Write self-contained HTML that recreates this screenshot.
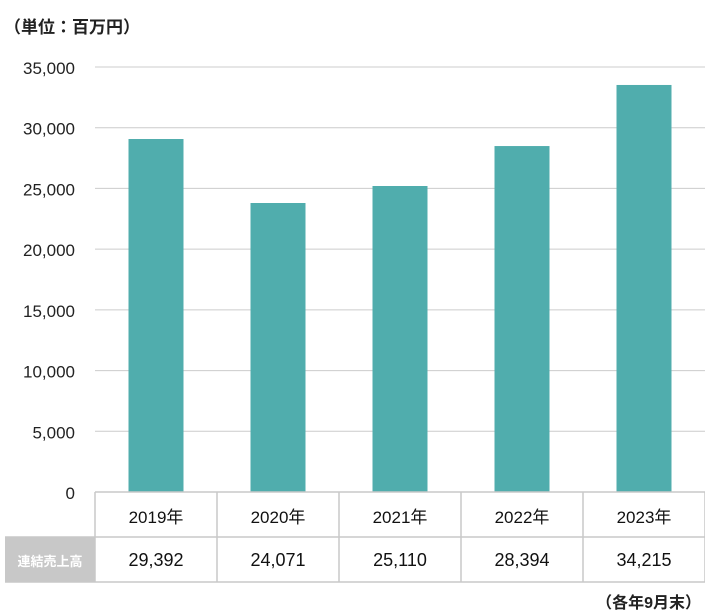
<!DOCTYPE html>
<html><head><meta charset="utf-8">
<style>
body{margin:0;background:#fff;font-family:"Liberation Sans","Noto Sans CJK JP",sans-serif;}
#c{position:relative;width:705px;height:613px;overflow:hidden;}
</style></head>
<body>
<div id="c">
<svg id="s" width="705" height="613" xmlns="http://www.w3.org/2000/svg"></svg>
</div>
<script>
const categories=["2019年","2020年","2021年","2022年","2023年"];
const barValues=[29070,23800,25200,28490,33520];
const tableLabels=["29,392","24,071","25,110","28,394","34,215"];
const yTicks=[0,5000,10000,15000,20000,25000,30000,35000];
const yTickLabels=["0","5,000","10,000","15,000","20,000","25,000","30,000","35,000"];

const NS="http://www.w3.org/2000/svg";
const s=document.getElementById('s');
const x0=95,x1=705,yBase=492,yTop=67,yMax=35000;
const colW=(x1-x0)/categories.length;
const yS=v=>yBase-(v/yMax)*(yBase-yTop);
const xS=i=>x0+i*colW;
function el(t,a,txt){const e=document.createElementNS(NS,t);for(const k in a)e.setAttribute(k,a[k]);if(txt!=null)e.textContent=txt;s.appendChild(e);return e;}

let t=el('text',{x:4,y:33,'font-size':17,'font-weight':'bold',fill:'#222'},'（単位：百万円）');



yTicks.forEach((v,i)=>{
  if(v>0){const g=el('line',{x1:x0,x2:x1,y1:yS(v),y2:yS(v),stroke:'#cccccc','stroke-width':1});
  
  }
  const l=el('text',{x:75,y:yS(v)+7,'text-anchor':'end','font-size':17,fill:'#222'},yTickLabels[i]);
  
  
});

barValues.forEach((v,i)=>{
  const bw=55;
  const b=el('rect',{x:xS(i)+(colW-bw)/2,y:yS(v),width:bw,height:yBase-yS(v),fill:'#50adad'});
  
  
});

// table
const r1=492,r2=537,r3=582;
const g=el('rect',{x:5,y:r2,width:x0-5,height:r3-r2,fill:'#c8c8c8'});


[[x0,r1,x1,r1],[5,r2,x1,r2],[5,r3,x1,r3]].forEach(a=>{
  const l=el('line',{x1:a[0],y1:a[1],x2:a[2],y2:a[3],stroke:'#c8c8c8','stroke-width':1.5});
  
  
});
for(let i=0;i<=categories.length;i++){
  const l=el('line',{x1:xS(i),y1:r1,x2:xS(i),y2:r3,stroke:'#c8c8c8','stroke-width':1.5});
  
  
}
const h=el('text',{x:50,y:566,'text-anchor':'middle','font-size':13,'font-weight':'bold',fill:'#fff'},'連結売上高');


categories.forEach((c,i)=>{
  const a=el('text',{x:xS(i)+colW/2,y:523,'text-anchor':'middle','font-size':17,fill:'#111'},c);
  
  
  const b=el('text',{x:xS(i)+colW/2,y:566,'text-anchor':'middle','font-size':18,fill:'#111'},tableLabels[i]);
  
  
});
const n=el('text',{x:701,y:608,'text-anchor':'end','font-size':16,'font-weight':'bold',fill:'#222'},'（各年9月末）');


</script>
</body></html>
